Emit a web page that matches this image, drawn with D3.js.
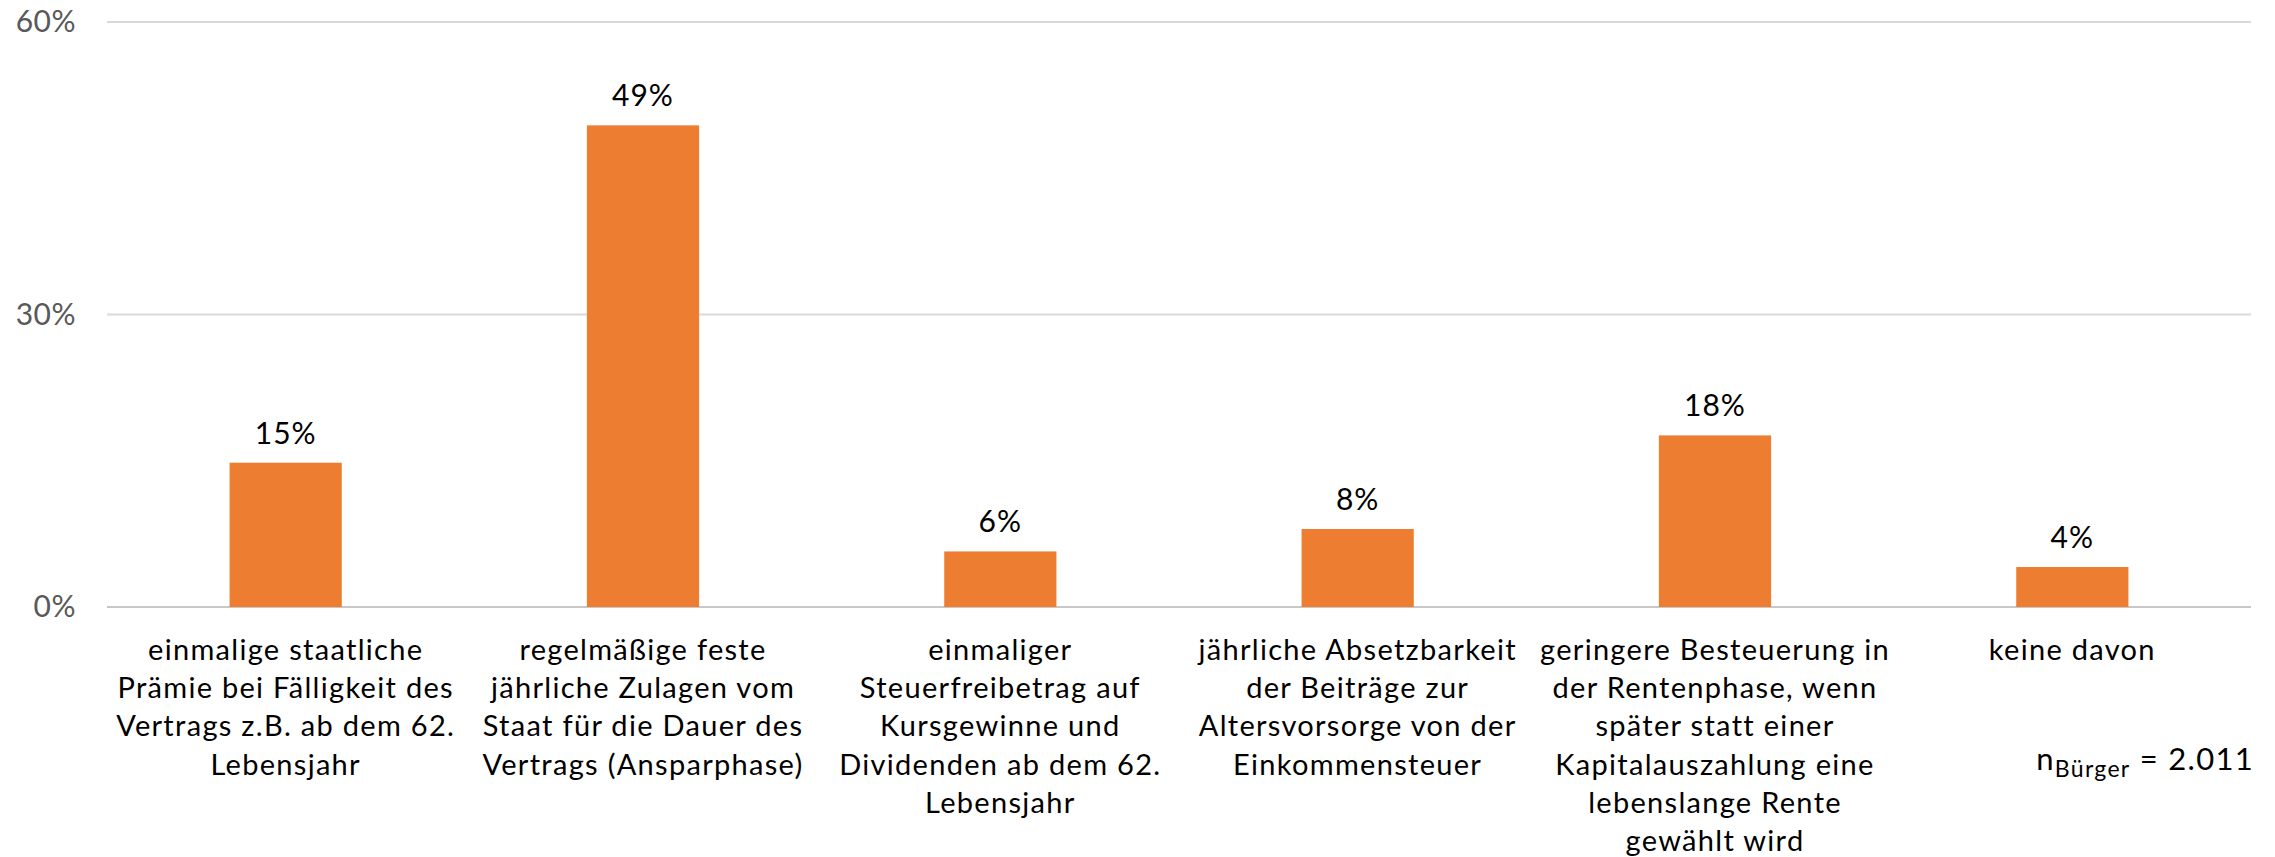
<!DOCTYPE html>
<html>
<head>
<meta charset="utf-8">
<script src="https://cdn.jsdelivr.net/npm/d3@7"></script>
<style>
  body { margin: 0; background: #fff; }
  text { font-family: Lato, "Open Sans", sans-serif; }
</style>
</head>
<body>
<div id="chart"></div>
<script>
// data
const categories = [
  ["einmalige staatliche", "Prämie bei Fälligkeit des", "Vertrags z.B. ab dem 62.", "Lebensjahr"],
  ["regelmäßige feste", "jährliche Zulagen vom", "Staat für die Dauer des", "Vertrags (Ansparphase)"],
  ["einmaliger", "Steuerfreibetrag auf", "Kursgewinne und", "Dividenden ab dem 62.", "Lebensjahr"],
  ["jährliche Absetzbarkeit", "der Beiträge zur", "Altersvorsorge von der", "Einkommensteuer"],
  ["geringere Besteuerung in", "der Rentenphase, wenn", "später statt einer", "Kapitalauszahlung eine", "lebenslange Rente", "gewählt wird"],
  ["keine davon"]
];
const values = [14.8, 49.4, 5.7, 8.0, 17.6, 4.1];
const yTicks = [0, 30, 60];

const width = 2275;
const height = 857;
const margin = {top: 22, right: 24, bottom: 250, left: 107};
const innerW = width - margin.left - margin.right;
const innerH = height - margin.top - margin.bottom;

const svg = d3.select("#chart").append("svg")
  .attr("width", width)
  .attr("height", height);

const g = svg.append("g")
  .attr("transform", `translate(${margin.left},${margin.top})`);

const x = d3.scaleBand()
  .domain(d3.range(values.length))
  .range([0, innerW])
  .paddingInner(0.686)
  .paddingOuter(0.343);

const y = d3.scaleLinear()
  .domain([0, 60])
  .range([innerH, 0]);

// gridlines
g.selectAll(".grid")
  .data(yTicks)
  .enter()
  .append("line")
    .attr("x1", 0)
    .attr("x2", innerW)
    .attr("y1", d => y(d))
    .attr("y2", d => y(d))
    .style("stroke", d => d === 0 ? "#c8c8c8" : "#d9d9d9")
    .style("stroke-width", 2);

// y axis labels
g.selectAll(".ylab")
  .data(yTicks)
  .enter()
  .append("text")
    .attr("x", -31)
    .attr("y", d => y(d) + 10)
    .attr("text-anchor", "end")
    .style("font-size", "30px")
    .style("letter-spacing", "0.5px")
    .style("fill", "#595959")
    .text(d => d + "%");

// bars
g.selectAll(".bar")
  .data(values)
  .enter()
  .append("rect")
    .attr("x", (d, i) => x(i))
    .attr("y", d => y(d))
    .attr("width", x.bandwidth())
    .attr("height", d => innerH - y(d))
    .style("fill", "#ED7D31");

// value labels
g.selectAll(".val")
  .data(values)
  .enter()
  .append("text")
    .attr("x", (d, i) => x(i) + x.bandwidth() / 2)
    .attr("y", d => y(d) - 19)
    .attr("text-anchor", "middle")
    .style("font-size", "30px")
    .style("letter-spacing", "1px")
    .style("fill", "#000")
    .text(d => Math.round(d) + "%");

// category labels
const cat = g.selectAll(".cat")
  .data(categories)
  .enter()
  .append("text")
    .attr("text-anchor", "middle")
    .style("font-size", "29px")
    .style("letter-spacing", "1.3px")
    .style("fill", "#000")
    .attr("transform", (d, i) => `translate(${x(i) + x.bandwidth() / 2},${innerH + 53})`);

cat.selectAll("tspan")
  .data(d => d)
  .enter()
  .append("tspan")
    .attr("x", 0)
    .attr("y", (d, i) => i * 38.2)
    .text(d => d);

// sample size note
const note = svg.append("text")
  .attr("x", 2254)
  .attr("y", 770)
  .attr("text-anchor", "end")
  .style("font-size", "31px")
  .style("letter-spacing", "1.3px")
  .style("fill", "#000");
note.append("tspan").text("n");
note.append("tspan").attr("dy", 7).style("font-size", "23px").text("Bürger");
note.append("tspan").attr("dy", -7).text(" = 2.011");
</script>
</body>
</html>
